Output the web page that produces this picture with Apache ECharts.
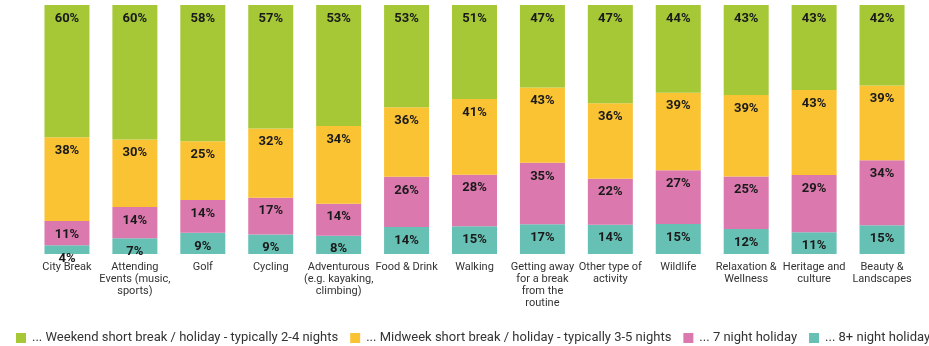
<!DOCTYPE html>
<html>
<head>
<meta charset="utf-8">
<script src="https://cdn.jsdelivr.net/npm/echarts@6/dist/echarts.min.js"></script>
<style>
  html, body { margin: 0; padding: 0; background: #fff; }
  #chart { width: 929px; height: 346px; }
</style>
</head>
<body>
<div id="chart"></div>
<script>
// Holiday types by length of stay, per activity
const categories = [
  'City Break',
  'Attending\nEvents (music,\nsports)',
  'Golf',
  'Cycling',
  'Adventurous\n(e.g. kayaking,\nclimbing)',
  'Food & Drink',
  'Walking',
  'Getting away\nfor a break\nfrom the\nroutine',
  'Other type of\nactivity',
  'Wildlife',
  'Relaxation &\nWellness',
  'Heritage and\nculture',
  'Beauty &\nLandscapes'
];

const weekend = [60, 60, 58, 57, 53, 53, 51, 47, 47, 44, 43, 43, 42];
const midweek = [38, 30, 25, 32, 34, 36, 41, 43, 36, 39, 39, 43, 39];
const sevenNight = [11, 14, 14, 17, 14, 26, 28, 35, 22, 27, 25, 29, 34];
const eightPlus = [4, 7, 9, 9, 8, 14, 15, 17, 14, 15, 12, 11, 15];

const seriesNames = [
  '... Weekend short break / holiday - typically 2-4 nights',
  '... Midweek short break / holiday - typically 3-5 nights',
  '... 7 night holiday',
  '... 8+ night holiday'
];
const colors = ['#a6c837', '#fac334', '#db79ae', '#67c0b4'];

// Each bar is scaled to the full height; labels show the stated percentages.
const totals = categories.map((_, i) => weekend[i] + midweek[i] + sevenNight[i] + eightPlus[i]);

function makeSeries(name, values, color) {
  return {
    name: name,
    type: 'bar',
    stack: 'all',
    barWidth: 45,
    itemStyle: { color: color },
    label: {
      show: true,
      position: 'insideTop',
      distance: 7,
      color: '#1a1a1a',
      fontFamily: 'Roboto',
      fontWeight: 'bold',
      fontSize: 13,
      formatter: p => values[p.dataIndex] + '%'
    },
    labelLayout: { hideOverlap: false },
    data: values.map((v, i) => v / totals[i] * 100)
  };
}

const chart = echarts.init(document.getElementById('chart'), null, { renderer: 'canvas' });
chart.setOption({
  animation: false,
  color: colors,
  textStyle: { fontFamily: 'Roboto' },
  grid: { left: 33, right: 13, top: 5, bottom: 92, containLabel: false },
  legend: {
    top: 331,
    left: 16,
    width: 1100,
    padding: 0,
    itemWidth: 10,
    itemHeight: 10,
    itemGap: 12,
    icon: 'rect',
    textStyle: {
      fontFamily: 'Roboto',
      fontSize: 13,
      lineHeight: 14,
      color: '#333',
      padding: [0, 0, 0, 1]
    },
    data: seriesNames
  },
  xAxis: {
    type: 'category',
    data: categories,
    axisLine: { show: false },
    axisTick: { show: false },
    axisLabel: {
      interval: 0,
      margin: 7,
      color: '#333',
      fontFamily: 'Roboto',
      fontSize: 11,
      lineHeight: 12
    }
  },
  yAxis: {
    type: 'value',
    min: 0,
    max: 100,
    show: false,
    splitLine: { show: false }
  },
  series: [
    makeSeries(seriesNames[3], eightPlus, colors[3]),
    makeSeries(seriesNames[2], sevenNight, colors[2]),
    makeSeries(seriesNames[1], midweek, colors[1]),
    makeSeries(seriesNames[0], weekend, colors[0])
  ]
});
</script>
</body>
</html>
